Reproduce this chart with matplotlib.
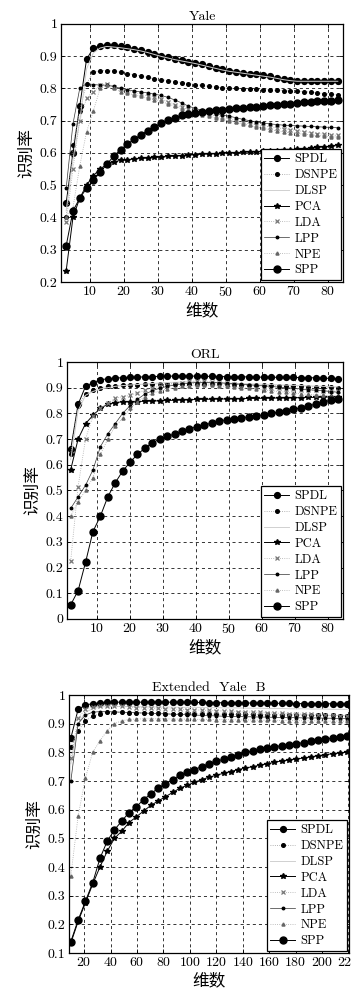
import numpy as np
import matplotlib
matplotlib.use("Agg")
import matplotlib.pyplot as plt

plt.rcParams['font.family'] = ['cmr10', 'Noto Sans CJK SC']
plt.rcParams['axes.unicode_minus'] = False
plt.rcParams['axes.formatter.use_mathtext'] = True

methods = ['SPDL', 'DSNPE', 'DLSP', 'PCA', 'LDA', 'LPP', 'NPE', 'SPP']

# ---------------- Yale ----------------
x_yale = np.arange(3, 84, 2)
spdl_yale = [0.445, 0.60, 0.745, 0.89, 0.925, 0.932, 0.934, 0.933, 0.930, 0.927,
             0.923, 0.918, 0.913, 0.907, 0.901, 0.896, 0.891, 0.887, 0.883, 0.879,
             0.874, 0.869, 0.864, 0.859, 0.855, 0.852, 0.849, 0.846, 0.843, 0.840,
             0.837, 0.833, 0.829, 0.826, 0.824, 0.824, 0.824, 0.824, 0.824, 0.824, 0.824]
dsnpe_yale = [0.40, 0.625, 0.73, 0.815, 0.85, 0.855, 0.855, 0.853, 0.85, 0.846,
              0.842, 0.838, 0.834, 0.83, 0.827, 0.824, 0.821, 0.818, 0.815, 0.812,
              0.809, 0.806, 0.804, 0.802, 0.80, 0.80, 0.799, 0.798, 0.797, 0.796,
              0.795, 0.794, 0.793, 0.792, 0.791, 0.79, 0.788, 0.786, 0.784, 0.782, 0.78]
dlsp_yale = [0.42, 0.58, 0.70, 0.86, 0.91, 0.925, 0.93, 0.928, 0.926, 0.923,
             0.92, 0.916, 0.911, 0.905, 0.899, 0.894, 0.889, 0.885, 0.881, 0.877,
             0.872, 0.867, 0.862, 0.857, 0.853, 0.85, 0.847, 0.844, 0.841, 0.838,
             0.835, 0.831, 0.827, 0.824, 0.822, 0.822, 0.822, 0.822, 0.822, 0.822, 0.822]
pca_yale = [0.235, 0.40, 0.46, 0.50, 0.53, 0.55, 0.565, 0.572, 0.577, 0.579,
            0.581, 0.583, 0.584, 0.586, 0.587, 0.589, 0.59, 0.592, 0.594, 0.595,
            0.596, 0.597, 0.598, 0.599, 0.60, 0.601, 0.602, 0.603, 0.604, 0.605,
            0.606, 0.607, 0.608, 0.61, 0.611, 0.613, 0.615, 0.617, 0.619, 0.621, 0.623]
lda_yale = [0.385, 0.55, 0.70, 0.77, 0.79, 0.81, 0.815, 0.805, 0.798, 0.792,
            0.787, 0.782, 0.777, 0.772, 0.766, 0.758, 0.75, 0.742, 0.735, 0.73,
            0.725, 0.72, 0.715, 0.71, 0.705, 0.70, 0.695, 0.69, 0.687, 0.684,
            0.681, 0.678, 0.675, 0.672, 0.669, 0.666, 0.663, 0.66, 0.658, 0.656, 0.654]
lpp_yale = [0.49, 0.69, 0.80, 0.815, 0.812, 0.81, 0.81, 0.806, 0.80, 0.796,
            0.792, 0.789, 0.786, 0.782, 0.778, 0.772, 0.764, 0.755, 0.745, 0.738,
            0.732, 0.727, 0.722, 0.718, 0.714, 0.709, 0.704, 0.70, 0.696, 0.693,
            0.69, 0.688, 0.686, 0.685, 0.684, 0.683, 0.682, 0.681, 0.68, 0.679, 0.678]
npe_yale = [0.40, 0.43, 0.56, 0.665, 0.73, 0.80, 0.81, 0.80, 0.79, 0.785,
            0.78, 0.775, 0.77, 0.765, 0.76, 0.752, 0.745, 0.737, 0.73, 0.724,
            0.719, 0.714, 0.709, 0.704, 0.70, 0.695, 0.69, 0.685, 0.68, 0.676,
            0.672, 0.668, 0.665, 0.662, 0.66, 0.658, 0.656, 0.654, 0.652, 0.65, 0.649]
spp_yale = [0.312, 0.42, 0.46, 0.49, 0.515, 0.54, 0.565, 0.59, 0.61, 0.627,
            0.642, 0.656, 0.669, 0.681, 0.692, 0.701, 0.709, 0.716, 0.721, 0.725,
            0.728, 0.73, 0.732, 0.734, 0.736, 0.738, 0.739, 0.741, 0.743, 0.745,
            0.747, 0.749, 0.751, 0.753, 0.755, 0.757, 0.758, 0.76, 0.761, 0.762, 0.763]

# ---------------- ORL ----------------
x_orl = 2 + 2.25 * np.arange(37)
spdl_orl = [0.66, 0.835, 0.905, 0.92, 0.93, 0.935, 0.937, 0.939, 0.94, 0.941,
            0.942, 0.943, 0.944, 0.945, 0.945, 0.945, 0.945, 0.945, 0.944, 0.944,
            0.943, 0.943, 0.942, 0.942, 0.942, 0.941, 0.941, 0.941, 0.94, 0.94,
            0.94, 0.939, 0.939, 0.938, 0.937, 0.936, 0.935]
dsnpe_orl = [0.64, 0.83, 0.875, 0.89, 0.90, 0.905, 0.908, 0.91, 0.911, 0.912,
             0.913, 0.914, 0.915, 0.915, 0.916, 0.916, 0.916, 0.915, 0.915, 0.914,
             0.914, 0.913, 0.912, 0.912, 0.911, 0.91, 0.91, 0.909, 0.908, 0.907,
             0.906, 0.905, 0.904, 0.903, 0.902, 0.901, 0.90]
dlsp_orl = [0.62, 0.81, 0.87, 0.885, 0.895, 0.90, 0.905, 0.908, 0.91, 0.912,
            0.914, 0.916, 0.918, 0.92, 0.921, 0.922, 0.922, 0.922, 0.921, 0.92,
            0.919, 0.918, 0.917, 0.916, 0.915, 0.914, 0.913, 0.912, 0.911, 0.91,
            0.909, 0.908, 0.907, 0.906, 0.905, 0.904, 0.903]
pca_orl = [0.58, 0.70, 0.76, 0.792, 0.82, 0.835, 0.842, 0.845, 0.845, 0.846,
           0.847, 0.848, 0.849, 0.85, 0.851, 0.852, 0.853, 0.854, 0.855, 0.855,
           0.856, 0.856, 0.857, 0.857, 0.858, 0.858, 0.859, 0.859, 0.86, 0.86,
           0.861, 0.861, 0.862, 0.862, 0.863, 0.864, 0.865]
lda_orl = [0.225, 0.515, 0.70, 0.79, 0.82, 0.84, 0.858, 0.865, 0.87, 0.88,
           0.89, 0.90, 0.905, 0.91, 0.915, 0.92, 0.925, 0.925, 0.924, 0.922,
           0.92, 0.917, 0.914, 0.911, 0.908, 0.905, 0.902, 0.90, 0.898, 0.896,
           0.894, 0.892, 0.89, 0.889, 0.888, 0.887, 0.886]
lpp_orl = [0.43, 0.475, 0.52, 0.58, 0.67, 0.72, 0.76, 0.80, 0.83, 0.855,
           0.875, 0.888, 0.898, 0.905, 0.91, 0.915, 0.918, 0.92, 0.92, 0.92,
           0.919, 0.917, 0.915, 0.913, 0.911, 0.909, 0.907, 0.905, 0.902, 0.90,
           0.898, 0.895, 0.892, 0.89, 0.888, 0.885, 0.882]
npe_orl = [0.40, 0.455, 0.50, 0.55, 0.64, 0.70, 0.75, 0.78, 0.82, 0.845,
           0.865, 0.878, 0.888, 0.895, 0.90, 0.905, 0.908, 0.91, 0.91, 0.909,
           0.907, 0.905, 0.902, 0.90, 0.897, 0.894, 0.891, 0.888, 0.885, 0.882,
           0.879, 0.876, 0.874, 0.872, 0.87, 0.868, 0.866]
spp_orl = [0.055, 0.11, 0.22, 0.34, 0.40, 0.475, 0.53, 0.575, 0.61, 0.64,
           0.665, 0.685, 0.70, 0.71, 0.72, 0.73, 0.74, 0.748, 0.755, 0.762,
           0.77, 0.775, 0.778, 0.782, 0.787, 0.79, 0.795, 0.80, 0.805, 0.81,
           0.815, 0.822, 0.83, 0.835, 0.845, 0.85, 0.855]

# ---------------- Extended Yale B ----------------
x_eyb = 10 + 5.5 * np.arange(39)
spdl_eyb = [0.85, 0.95, 0.965, 0.97, 0.972, 0.974, 0.975, 0.975, 0.975, 0.975,
            0.975, 0.975, 0.975, 0.975, 0.975, 0.974, 0.974, 0.974, 0.974, 0.973,
            0.973, 0.973, 0.973, 0.972, 0.972, 0.972, 0.972, 0.971, 0.971, 0.971,
            0.971, 0.97, 0.97, 0.97, 0.97, 0.97, 0.969, 0.969, 0.969]
dsnpe_eyb = [0.82, 0.875, 0.91, 0.925, 0.935, 0.94, 0.94, 0.939, 0.938, 0.937,
             0.937, 0.936, 0.936, 0.935, 0.935, 0.935, 0.934, 0.934, 0.934, 0.933,
             0.933, 0.933, 0.932, 0.932, 0.932, 0.932, 0.931, 0.931, 0.931, 0.93,
             0.93, 0.93, 0.93, 0.929, 0.929, 0.929, 0.929, 0.928, 0.928]
dlsp_eyb = [0.76, 0.90, 0.94, 0.952, 0.958, 0.96, 0.96, 0.96, 0.96, 0.959,
            0.959, 0.959, 0.958, 0.958, 0.958, 0.957, 0.957, 0.957, 0.956, 0.956,
            0.956, 0.955, 0.955, 0.955, 0.954, 0.954, 0.954, 0.953, 0.953, 0.953,
            0.952, 0.952, 0.952, 0.951, 0.951, 0.951, 0.95, 0.95, 0.95]
pca_eyb = [0.135, 0.21, 0.275, 0.34, 0.40, 0.455, 0.50, 0.525, 0.555, 0.575,
           0.595, 0.615, 0.63, 0.645, 0.66, 0.675, 0.685, 0.695, 0.705, 0.713,
           0.72, 0.727, 0.733, 0.74, 0.745, 0.75, 0.755, 0.76, 0.765, 0.77,
           0.773, 0.777, 0.78, 0.784, 0.788, 0.792, 0.795, 0.798, 0.80]
lda_eyb = [0.78, 0.92, 0.95, 0.958, 0.962, 0.963, 0.962, 0.96, 0.958, 0.956,
           0.955, 0.954, 0.953, 0.952, 0.951, 0.95, 0.949, 0.948, 0.947, 0.946,
           0.945, 0.944, 0.943, 0.942, 0.941, 0.94, 0.939, 0.938, 0.937, 0.936,
           0.935, 0.934, 0.933, 0.932, 0.931, 0.93, 0.929, 0.928, 0.927]
lpp_eyb = [0.70, 0.90, 0.93, 0.94, 0.942, 0.942, 0.941, 0.94, 0.939, 0.938,
           0.937, 0.936, 0.935, 0.934, 0.933, 0.932, 0.931, 0.93, 0.929, 0.928,
           0.927, 0.926, 0.925, 0.925, 0.924, 0.924, 0.923, 0.923, 0.922, 0.922,
           0.921, 0.921, 0.92, 0.92, 0.92, 0.919, 0.919, 0.918, 0.918]
npe_eyb = [0.37, 0.578, 0.71, 0.80, 0.84, 0.876, 0.90, 0.91, 0.915, 0.916,
           0.917, 0.917, 0.917, 0.917, 0.916, 0.916, 0.916, 0.915, 0.915, 0.915,
           0.914, 0.914, 0.914, 0.913, 0.913, 0.913, 0.912, 0.912, 0.912, 0.911,
           0.911, 0.911, 0.91, 0.91, 0.91, 0.909, 0.909, 0.909, 0.908]
spp_eyb = [0.14, 0.215, 0.28, 0.345, 0.43, 0.49, 0.53, 0.56, 0.59, 0.61,
           0.635, 0.655, 0.675, 0.69, 0.705, 0.72, 0.73, 0.74, 0.75, 0.76,
           0.77, 0.775, 0.785, 0.79, 0.80, 0.805, 0.81, 0.815, 0.82, 0.823,
           0.827, 0.83, 0.834, 0.838, 0.842, 0.846, 0.85, 0.853, 0.857]

# line styles, matlab-ish black & white print
styles = {
    'SPDL':  dict(ls='-', lw=0.7, color='black', marker='o', ms=4.2, mfc='black', mec='black'),
    'DSNPE': dict(ls=':', lw=0.6, color='#999999', marker='o', ms=2.6, mfc='black', mec='black'),
    'DLSP':  dict(ls='-', lw=0.7, color='#d0d0d0', marker=None),
    'PCA':   dict(ls='-', lw=0.7, color='black', marker='*', ms=4.2, mfc='black', mec='black'),
    'LDA':   dict(ls=':', lw=0.6, color='#aaaaaa', marker='x', ms=3.0, mew=0.9, mfc='#777777', mec='#777777'),
    'LPP':   dict(ls='-', lw=0.5, color='#333333', marker='o', ms=1.8, mfc='black', mec='black'),
    'NPE':   dict(ls=':', lw=0.6, color='#aaaaaa', marker='^', ms=2.2, mfc='#666666', mec='#666666'),
    'SPP':   dict(ls='-', lw=0.7, color='black', marker='o', ms=5.0, mfc='black', mec='black'),
}


def draw_panel(ax, x, series, title, xlim, ylim, xticks, yticks, ylabels):
    for name, y in zip(methods, series):
        ax.plot(x, y, label=name, **styles[name])
    ax.set_xlim(*xlim)
    ax.set_ylim(*ylim)
    ax.set_xticks(xticks)
    ax.set_yticks(yticks)
    ax.set_yticklabels(ylabels)
    ax.grid(True, color='black', lw=0.55, ls=(0, (4, 4)))
    ax.tick_params(direction='in', top=True, right=True, length=3, width=0.6,
                   labelsize=10, pad=2.5)
    for sp in ax.spines.values():
        sp.set_linewidth(0.9)
    ax.set_title(title, fontsize=10, pad=3)
    ax.set_xlabel('维数', fontsize=12, family='Noto Sans CJK SC', labelpad=2)
    ax.set_ylabel('识别率', fontsize=12, family='Noto Sans CJK SC', labelpad=3)
    leg = ax.legend(loc='lower right', fontsize=9, frameon=True, fancybox=False,
                    framealpha=1, edgecolor='black', borderaxespad=0.15,
                    handlelength=2.0, handletextpad=0.4, labelspacing=0.3,
                    borderpad=0.3)
    leg.get_frame().set_linewidth(0.9)


fig = plt.figure(figsize=(3.51, 9.93), dpi=100)

ax1 = fig.add_axes([0.174, 0.716, 0.803, 0.260])
draw_panel(ax1, x_yale,
           [spdl_yale, dsnpe_yale, dlsp_yale, pca_yale, lda_yale, lpp_yale, npe_yale, spp_yale],
           'Yale', (1.5, 84.5), (0.2, 1.0), [10, 20, 30, 40, 50, 60, 70, 80],
           [0.2, 0.3, 0.4, 0.5, 0.6, 0.7, 0.8, 0.9, 1.0],
           ['0.2', '0.3', '0.4', '0.5', '0.6', '0.7', '0.8', '0.9', '1'])

ax2 = fig.add_axes([0.191, 0.3767, 0.786, 0.2588])
draw_panel(ax2, x_orl,
           [spdl_orl, dsnpe_orl, dlsp_orl, pca_orl, lda_orl, lpp_orl, npe_orl, spp_orl],
           'ORL', (0.9, 84.5), (0.0, 1.0), [10, 20, 30, 40, 50, 60, 70, 80],
           [0, 0.1, 0.2, 0.3, 0.4, 0.5, 0.6, 0.7, 0.8, 0.9, 1.0],
           ['0', '0.1', '0.2', '0.3', '0.4', '0.5', '0.6', '0.7', '0.8', '0.9', '1'])

ax3 = fig.add_axes([0.1966, 0.0403, 0.798, 0.2598])
draw_panel(ax3, x_eyb,
           [spdl_eyb, dsnpe_eyb, dlsp_eyb, pca_eyb, lda_eyb, lpp_eyb, npe_eyb, spp_eyb],
           'Extended  Yale  B', (8.6, 220.5), (0.1, 1.0), list(range(20, 221, 20)),
           [0.1, 0.2, 0.3, 0.4, 0.5, 0.6, 0.7, 0.8, 0.9, 1.0],
           ['0.1', '0.2', '0.3', '0.4', '0.5', '0.6', '0.7', '0.8', '0.9', '1'])

fig.savefig('out.png', dpi=100)
